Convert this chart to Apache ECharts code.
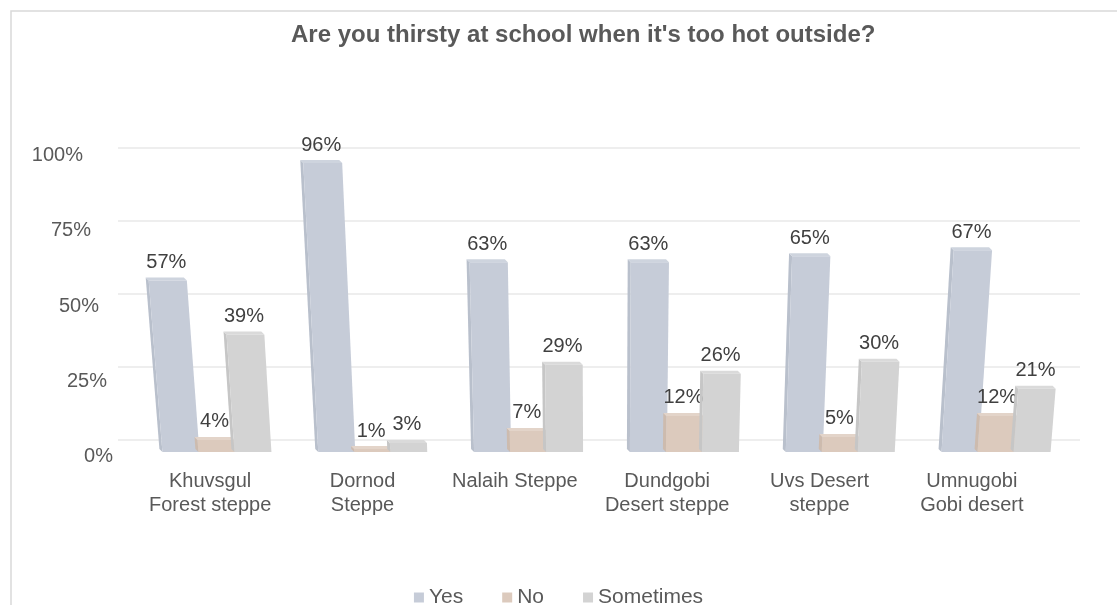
<!DOCTYPE html>
<html>
<head>
<meta charset="utf-8">
<script src="https://cdn.jsdelivr.net/npm/echarts@6/dist/echarts.min.js"></script>
<style>html,body{margin:0;padding:0;background:#fff;}#c{width:1117px;height:605px;}</style>
</head>
<body>
<div id="c"></div>
<script>
const titleText = "Are you thirsty at school when it's too hot outside?";
const categories = ['Khuvsgul\nForest steppe', 'Dornod\nSteppe', 'Nalaih Steppe', 'Dundgobi\nDesert steppe', 'Uvs Desert\nsteppe', 'Umnugobi\nGobi desert'];
const seriesNames = ['Yes', 'No', 'Sometimes'];
const yesValues = [57, 96, 63, 63, 65, 67];
const noValues = [4, 1, 7, 12, 5, 12];
const sometimesValues = [39, 3, 29, 26, 30, 21];
const yTicks = [0, 25, 50, 75, 100];

const colors = ['#c6ccd8', '#dccabd', '#d3d3d3'];
const sideColors = ['#b9c0cc', '#cdbbae', '#c6c6c6'];
const topColors = ['#ced4de', '#e3d4c9', '#dadada'];
const FONT = 'Liberation Sans, Arial, sans-serif';

function makeRender(idx) {
  return function (params, api) {
    const ci = api.value(0), v = api.value(1);
    const base = api.coord([ci, 0]);
    const top = api.coord([ci, v]);
    const w = 37, step = 36;
    const cx = base[0] + (idx - 1) * step;
    const x0 = cx - w / 2, x1 = cx + w / 2;
    const y0 = base[1], y1 = top[1];
    const h = y0 - y1;
    const vx = params.coordSys.x + params.coordSys.width / 2;
    const f = 1.8e-4;
    const sx = (x) => x + (x - vx) * h * f;
    const dx = -3, dy = -3;
    const t0 = sx(x0), t1 = sx(x1);
    return {
      type: 'group',
      children: [
        { type: 'polygon', shape: { points: [[x0, y0], [t0, y1], [t0 + dx, y1 + dy], [x0 + dx, y0 + dy]] }, style: { fill: sideColors[idx] } },
        { type: 'polygon', shape: { points: [[t0, y1], [t1, y1], [t1 + dx, y1 + dy], [t0 + dx, y1 + dy]] }, style: { fill: topColors[idx] } },
        { type: 'polygon', shape: { points: [[x0, y0], [x1, y0], [t1, y1], [t0, y1]] }, style: { fill: colors[idx] } },
        { type: 'text', x: (t0 + t1) / 2 + dx / 2, y: y1 + dy - 5, style: { text: v + '%', fill: '#404040', font: '20px ' + FONT, textAlign: 'center', textVerticalAlign: 'bottom' } }
      ]
    };
  };
}

const seriesData = [yesValues, noValues, sometimesValues];
const padMap = { 0: 0, 25: 6, 50: 14, 75: 22, 100: 30 };

const chart = echarts.init(document.getElementById('c'), null, { renderer: 'canvas' });
chart.setOption({
  animation: false,
  backgroundColor: '#fff',
  color: colors,
  title: {
    text: titleText, left: 286, top: 18,
    textStyle: { fontFamily: FONT, fontSize: 24, fontWeight: 'bold', color: '#595959' }
  },
  graphic: [{ type: 'rect', shape: { x: 11, y: 11, width: 1200, height: 700 }, style: { fill: 'none', stroke: '#d9d9d9', lineWidth: 1.5 }, silent: true }],
  legend: {
    data: seriesNames, top: 582, left: 'center', icon: 'rect', itemWidth: 10, itemHeight: 10, itemGap: 39,
    textStyle: { fontFamily: FONT, fontSize: 21, color: '#595959' }
  },
  grid: [
    { left: 139, right: 43, top: 151, bottom: 153 },
    { left: 118, right: 37, top: 148, bottom: 165 },
    { left: 134, right: 69, top: 151, bottom: 153 }
  ],
  xAxis: [
    { type: 'category', gridIndex: 0, data: categories, axisLine: { show: false }, axisTick: { show: false }, axisLabel: { show: false } },
    { type: 'category', gridIndex: 1, data: categories, show: false },
    { type: 'category', gridIndex: 2, data: categories, axisLine: { show: false }, axisTick: { show: false },
      axisLabel: { margin: 17, fontFamily: FONT, fontSize: 20, lineHeight: 24, color: '#595959', interval: 0 } }
  ],
  yAxis: [
    { type: 'value', gridIndex: 0, min: 0, max: 100, interval: 25, splitLine: { show: false }, axisLine: { show: false }, axisTick: { show: false },
      axisLabel: { margin: 26, fontFamily: FONT, fontSize: 20, color: '#595959',
        formatter: (v) => '{p' + v + '|' + v + '%}',
        rich: Object.fromEntries(yTicks.map(t => ['p' + t, { fontFamily: FONT, fontSize: 20, color: '#595959', padding: [9, padMap[t], 0, 0] }])) } },
    { type: 'value', gridIndex: 1, min: 0, max: 100, interval: 25, axisLabel: { show: false }, axisLine: { show: false }, axisTick: { show: false },
      splitLine: { show: true, lineStyle: { color: '#e8e8e8', width: 1.5 } } },
    { type: 'value', gridIndex: 2, min: 0, max: 100, show: false, splitLine: { show: false } }
  ],
  series: seriesNames.map((name, i) => ({
    name: name, type: 'custom', xAxisIndex: 0, yAxisIndex: 0,
    itemStyle: { color: colors[i] },
    renderItem: makeRender(i),
    encode: { x: 0, y: 1 },
    data: seriesData[i].map((v, k) => [k, v]),
    z: 2
  }))
});
</script>
</body>
</html>
